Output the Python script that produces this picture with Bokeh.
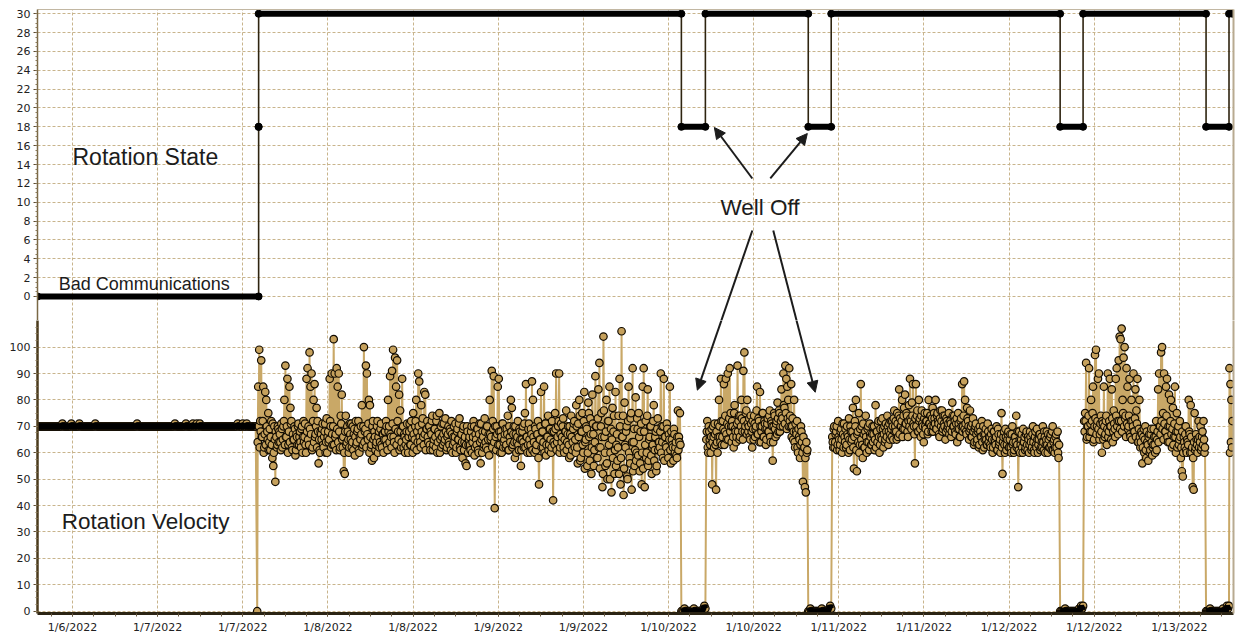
import numpy as np
import pandas as pd
from bokeh.plotting import figure
from bokeh.layouts import column
from bokeh.models import Range1d, LinearAxis, FixedTicker, Label, Arrow, NormalHead
from bokeh.embed import file_html
from bokeh.resources import INLINE

# ---------------- data ----------------
tick_times = ["2022-01-06 12:00", "2022-01-07 00:00", "2022-01-07 12:00", "2022-01-08 00:00",
              "2022-01-08 12:00", "2022-01-09 00:00", "2022-01-09 12:00", "2022-01-10 00:00",
              "2022-01-10 12:00", "2022-01-11 00:00", "2022-01-11 12:00", "2022-01-12 00:00",
              "2022-01-12 12:00", "2022-01-13 00:00"]
tick_labels = ["1/6/2022", "1/7/2022", "1/7/2022", "1/8/2022", "1/8/2022", "1/9/2022", "1/9/2022",
               "1/10/2022", "1/10/2022", "1/11/2022", "1/11/2022", "1/12/2022", "1/12/2022", "1/13/2022"]

state_ticks = list(range(0, 31, 2))
vel_ticks = list(range(0, 101, 10))

# Rotation State runs
state_start = ["2022-01-06 07:04", "2022-01-07 14:14", "2022-01-07 14:14", "2022-01-10 01:49",
               "2022-01-10 05:12", "2022-01-10 19:42", "2022-01-10 22:56", "2022-01-12 07:12",
               "2022-01-12 10:26", "2022-01-13 03:46", "2022-01-13 07:00"]
state_end = ["2022-01-07 14:14", "2022-01-07 14:14", "2022-01-10 01:49", "2022-01-10 05:12",
             "2022-01-10 19:42", "2022-01-10 22:56", "2022-01-12 07:12", "2022-01-12 10:26",
             "2022-01-13 03:46", "2022-01-13 07:00", "2022-01-13 07:29"]
state_value = [0, 18, 30, 18, 30, 18, 30, 18, 30, 18, 30]

# Rotation Velocity, sampled segments
vel_flat = [70, 70, 70, 70, 70, 70, 70, 70, 70, 70, 70, 70, 70, 70, 70, 70, 70, 70, 70, 70,
            70, 70, 70, 70, 70, 71, 70, 70, 70, 70, 70, 70, 70, 70, 71, 70, 70, 70, 70, 70,
            70, 70, 71, 70, 70, 70, 70, 70, 70, 70, 70, 70, 70, 70, 70, 70, 70, 70, 71, 70,
            70, 70, 70, 70, 70, 70, 70, 70, 70, 70, 70, 70, 70, 70, 70, 70, 70, 70, 70, 70,
            70, 70, 70, 70, 70, 70, 70, 70, 70, 70, 70, 70, 70, 70, 70, 70, 70, 70, 70, 70,
            71, 70, 70, 70, 70, 70, 70, 70, 70, 70, 70, 70, 70, 70, 70, 70, 70, 70, 70, 70,
            70, 70, 70, 70, 70, 70, 70, 70, 70, 70, 70, 70, 70, 70, 70, 70, 70, 70, 71, 70,
            70, 70, 70, 70, 70, 70, 70, 70, 70, 71, 70, 70, 70, 70, 70, 70, 71, 70, 70, 70,
            71, 70, 70, 71, 70, 70, 70, 70, 70, 70, 70, 70, 70, 70, 70, 70, 70, 70, 70, 70,
            70, 70, 70, 70, 70, 70, 70, 70, 70, 70, 70, 70, 70, 70, 70, 70, 70, 70, 70, 70,
            70, 71, 70, 70, 70, 70, 71, 70, 70, 70, 71, 70, 70, 70, 70, 70, 70, 70, 70, 70]
vel_run_a = [0, 85, 99, 72, 95, 66, 85, 62, 83, 80, 68, 75, 64, 61, 72, 58, 55, 70, 49, 66, 63, 69,
             68, 64, 71, 62, 70, 80, 93, 66, 88, 63, 85, 77, 72, 61, 65, 70, 59, 67, 63, 71, 66,
             64, 69, 60, 72, 66, 63, 88, 92, 70, 98, 85, 90, 62, 80, 86, 67, 77, 72, 56, 61, 68,
             65, 71, 62, 68, 60, 73, 66, 64, 88, 70, 90, 63, 103, 90, 67, 92, 85, 90, 61, 74, 82,
             62, 53, 52, 74, 64, 68, 60, 71, 65, 62, 70, 67, 59, 72, 64, 69, 61, 66, 70, 78, 63,
             100, 68, 93, 90, 65, 80, 78, 62, 57, 72, 58, 66, 63, 70, 60, 68, 64, 71, 62, 67, 65,
             68, 72, 63, 80, 70, 89, 66, 91, 99, 64, 96, 85, 95, 68, 82, 76, 62, 88, 70, 67, 60,
             65, 71, 60, 68, 63, 72, 66, 75, 62, 70, 80, 68, 90, 87, 64, 78, 71, 66, 83, 82, 69,
             72, 64, 70, 61, 67, 74, 63, 69, 66, 72, 60, 68, 75, 65, 62, 71, 67, 64, 73, 61, 66,
             70, 63, 68, 72, 60, 66, 64, 71, 62, 69, 65, 73, 61, 67, 58, 70, 64, 56, 55, 68, 63,
             66, 61, 70, 64, 72, 59, 67, 63, 69, 60, 71, 56, 65, 68, 62, 73, 64, 70, 61, 67, 80,
             65, 91, 72, 89, 39, 66, 70, 85, 88, 63, 68, 60, 71, 64, 67, 62, 69, 74, 61, 66, 80,
             77, 63, 70, 58, 67, 64, 72, 61, 68, 55, 65, 70, 62, 75, 86, 66, 63, 71, 60, 69, 87,
             80, 64, 70, 61, 67, 72, 48, 65, 83, 68, 62, 85, 71, 59, 66, 74, 63, 69, 60, 72, 42,
             68, 75, 90, 64, 70, 90, 62, 71, 66, 73, 60, 68, 76, 64, 70, 58, 67, 74, 61, 69, 72,
             65, 78, 62, 71, 80, 57, 68, 75, 60, 83, 64, 70, 55, 79, 66, 73, 52, 82, 67, 61, 89,
             70, 58, 84, 94, 62, 75, 47, 104, 66, 55, 80, 50, 72, 85, 60, 45, 77, 68, 52, 83, 63,
             57, 74, 88, 48, 106, 66, 44, 79, 62, 70, 50, 85, 58, 73, 46, 92, 64, 55, 81, 60, 69,
             75, 53, 68, 48, 85, 92, 47, 72, 60, 84, 57, 66, 70, 52, 63, 78, 61, 68, 55, 73, 64,
             62, 90, 70, 58, 88, 66, 63, 71, 60, 67, 85, 56, 65, 62, 69, 60, 64, 58, 76, 66, 75]
vel_band_a = [64, 70, 62, 68, 66, 72, 60, 67, 63, 70, 65, 61, 69, 66, 63, 71, 60, 65, 68, 62, 70, 64,
              67, 61, 69, 65, 72, 63, 66, 70, 60, 68, 64, 71, 62, 67, 65, 69, 61, 66, 70, 63, 68,
              62, 70, 66, 64, 71, 60, 68, 65, 63, 69, 67, 61, 72, 64, 66, 70, 62, 68, 65, 60, 67,
              69, 63, 66, 71, 64, 60, 68, 65, 72, 62, 67, 70, 63, 66, 61, 69, 64, 68, 62, 71, 65,
              66, 60, 68, 63, 70, 65, 62, 67, 71, 64, 61, 69, 66, 63, 68, 72, 60, 65, 67, 62, 70,
              64, 69, 62, 67, 71, 60, 66, 63, 70, 65, 68, 61, 64, 72, 66, 62, 69, 63, 67, 60, 68,
              65, 70, 61, 68, 64, 67, 62, 71, 66, 60, 69, 63, 72, 65, 61, 68, 64, 70, 62, 66, 63,
              68, 62, 66, 71, 63, 69, 60, 67, 65, 72, 61, 64, 70, 66, 62, 68, 73, 63, 67, 61, 69,
              66, 70, 63, 68, 72, 61, 65, 69, 62, 74, 64, 67, 60, 70, 66, 63, 71, 65, 68, 62, 67,
              64, 69, 61, 67, 63, 70, 66, 60, 68, 65, 71, 62, 67, 64, 69, 61, 66, 63, 70, 60, 65,
              63, 68, 60, 66, 70, 62, 65, 69, 61, 67, 64, 71, 60, 66, 63, 68, 62, 70, 65, 59, 67,
              66, 62, 69, 64, 70, 61, 67, 63, 68, 60, 66, 71, 62, 65, 69, 63, 67, 61, 70, 64, 68,
              62, 67, 64, 70, 60, 66, 63, 69, 65, 61, 68, 64, 71, 62, 66, 60, 69, 65, 63, 67, 61,
              66, 60, 69, 63, 67, 58, 65, 70, 62, 68, 64, 60, 71, 63, 66, 61, 69, 65, 62, 68, 64,
              63, 69, 61, 66, 72, 60, 67, 64, 70, 62, 65, 68, 61, 67, 63, 70, 59, 66, 64, 71, 62,
              60, 70, 56, 66, 74, 58, 68, 63, 72, 54, 65, 69, 60, 75, 57, 67, 62, 71, 55, 64, 70,
              58, 73, 62, 54, 70, 66, 52, 76, 60, 68, 56, 72, 63, 50, 69, 65, 58, 74, 61, 55, 67,
              62, 52, 70, 58, 66, 74, 54, 63, 68, 51, 72, 60, 56, 75, 64, 53, 69, 61, 57, 73, 59,
              66, 56, 71, 60, 54, 68, 63, 58, 74, 55, 65, 70, 59, 62, 72, 57, 66, 53, 69, 61, 64,
              68, 60, 64, 70, 57, 66, 62, 69, 58, 65, 61, 68, 63, 57, 67, 62, 59, 66, 61, 64, 63]
vel_off1 = [0, 0, 0, 1, 0, 0, 0, 0, 0, 0, 0, 0, 1, 0, 0, 0, 0, 0, 0, 0, 0, 1, 2, 1]
vel_run_b = [65, 72, 60, 68, 63, 66, 48, 70, 62, 67, 46, 64, 71,
             80, 66, 88, 63, 72, 86, 68, 88, 65, 90, 70, 92, 75,
             64, 70, 62, 78, 68, 66, 93, 72, 65, 74, 80, 68, 91, 98, 70, 76, 80,
             68, 73, 65, 71, 62, 69, 74, 66, 70, 85, 67, 72, 83, 64, 70, 75, 66, 71, 63, 69,
             73, 68, 76, 64, 71, 57, 70, 74, 66, 72, 79, 68, 75, 70, 84, 73, 90, 77, 93, 88, 85, 80, 92,
             74, 86, 70, 65, 80, 62, 68, 72, 60, 66, 58, 70, 64, 49, 62, 47, 45, 60]
vel_band_b = [68, 62, 70, 65, 60, 69, 64, 66, 71, 63, 68, 60, 66,
              70, 64, 72, 66, 69, 63, 74, 67, 71, 65, 73, 68, 70,
              72, 66, 75, 69, 64, 71, 68, 74, 66, 70, 73, 65, 72, 68, 75, 67, 71,
              70, 66, 74, 68, 72, 65, 71, 69, 76, 67, 73, 64, 70, 68, 75, 66, 72, 69, 65, 71,
              68, 74, 66, 72, 70, 64, 75, 69, 71, 67, 73, 76, 68, 72, 74, 70, 78, 71, 75, 69, 73, 70, 72,
              70, 66, 73, 68, 64, 71, 67, 62, 69, 65, 63, 68, 60, 66, 62, 58, 64, 61]
vel_off2 = [0, 0, 1, 0, 0, 0, 0, 0, 0, 0, 0, 0, 0, 1, 0, 0, 0, 0, 0, 0, 1, 2, 1]
vel_run_c = [66, 62, 70, 64, 68, 61, 72, 65, 63, 69, 60, 67, 71, 64, 62, 70, 66, 73, 61, 68,
             65, 77, 54, 72, 80, 53, 68, 75, 63, 86, 70, 58, 67, 62, 74, 60, 69, 64, 71, 66,
             63, 70, 67, 61, 78, 68, 64, 72, 60, 69, 66, 73, 62, 70, 65, 68, 74, 63, 71, 67,
             69, 72, 65, 76, 70, 68, 75, 66, 84, 73, 70, 80, 69, 77, 82, 71, 74, 66, 78, 88,
             72, 79, 86, 70, 56, 86, 74, 68, 80, 73, 66, 76, 70, 64, 75, 69, 72, 67, 80, 71,
             74, 68, 77, 70, 73, 80, 69, 75, 71, 66, 76, 72, 68, 74, 70, 65, 73, 69, 71, 67,
             72, 66, 79, 70, 74, 68, 71, 64, 75, 69, 66, 73, 86, 70, 87, 80, 68, 77, 72, 65,
             76, 70, 66, 73, 63, 69, 71, 64, 68, 62, 70, 66, 72, 61, 67, 65, 69, 63, 71, 64,
             66, 62, 69, 60, 68, 65, 63, 70, 61, 67, 64, 60, 75, 52, 66, 63, 69, 61, 65, 68,
             62, 67, 60, 70, 64, 61, 66, 74, 63, 47, 68, 60, 65, 62, 69, 64, 61, 67, 63, 66,
             60, 68, 64, 62, 70, 61, 66, 63, 69, 60, 65, 67, 62, 64, 70, 61, 66, 63, 68, 60,
             65, 62, 67, 61, 70, 64, 60, 66, 62, 68, 58]
vel_band_c = [64, 69, 62, 67, 70, 63, 66, 61, 68, 65, 71, 62, 66, 69, 63, 67, 60, 65, 70, 64,
              68, 62, 66, 70, 61, 67, 64, 60, 69, 65, 63, 71, 62, 68, 66, 64, 70, 61, 67, 63,
              67, 64, 70, 65, 62, 68, 71, 66, 63, 72, 65, 69, 67, 64, 71, 66, 70, 68, 65, 72,
              66, 70, 73, 68, 72, 65, 71, 74, 67, 70, 72, 66, 74, 69, 71, 75, 68, 72, 70, 73,
              69, 74, 71, 67, 73, 70, 76, 68, 72, 69, 74, 71, 67, 73, 70, 72, 75, 68, 71, 74,
              70, 73, 68, 75, 71, 69, 74, 72, 67, 73, 70, 76, 69, 71, 74, 68, 72, 70, 75, 69,
              71, 68, 74, 70, 72, 67, 73, 69, 71, 66, 72, 70, 68, 74, 69, 71, 67, 73, 70, 68,
              69, 66, 71, 68, 64, 70, 67, 65, 69, 63, 68, 66, 64, 70, 62, 67, 65, 63, 68, 66,
              63, 67, 65, 62, 68, 64, 66, 61, 69, 63, 65, 67, 62, 64, 68, 60, 66, 63, 67, 62,
              65, 62, 67, 63, 60, 66, 64, 62, 68, 61, 65, 63, 67, 60, 64, 66, 62, 68, 61, 65,
              63, 66, 61, 67, 64, 60, 68, 62, 65, 63, 67, 61, 66, 62, 64, 68, 60, 65, 63, 67,
              62, 66, 63, 68, 61, 65, 62, 67, 64, 60, 63]
vel_off3 = [0, 0, 0, 0, 0, 1, 0, 0, 0, 0, 0, 0, 0, 0, 0, 0, 0, 0, 0, 1, 0, 2, 1, 2]
vel_run_d = [72, 75, 94, 66, 70, 92, 68, 80, 72, 85, 65, 97, 99, 70, 88, 90, 67,
             74, 60, 71, 85, 66, 72, 63, 90, 68, 88, 70, 84, 64, 76, 69, 88, 92, 72, 95, 104,
             103, 107, 80, 96, 100, 74, 92, 85, 70, 88, 66, 80, 72, 90, 68, 84, 76, 88, 64, 80,
             62, 68, 56, 66, 60, 70, 58, 64, 57, 67, 61, 69, 59, 63, 66, 60, 72, 65, 84, 90,
             70, 98, 100, 75, 90, 68, 85, 88, 64, 82, 70, 80, 62, 77, 66, 85, 60, 75, 68, 63,
             72, 58, 53, 51, 66, 62, 70, 60, 64, 80, 67, 78, 60, 47, 46, 75, 62, 65, 60, 72,
             66, 70, 62, 68, 72, 60]
vel_band_d = [68, 72, 65, 70, 74, 66, 71, 68, 75, 64, 70, 73, 67, 72, 69, 65, 71,
              68, 72, 65, 70, 67, 74, 69, 66, 72, 70, 65, 73, 68, 71, 66, 74, 70, 67, 72, 69,
              72, 68, 75, 70, 73, 66, 71, 69, 74, 67, 72, 65, 70, 68, 73, 66, 71, 64, 69, 66,
              64, 67, 62, 69, 65, 61, 68, 63, 66, 60, 67, 64, 62, 69, 63, 66, 61, 68, 64, 70,
              67, 72, 69, 65, 71, 68, 74, 66, 70, 64, 72, 67, 69, 63, 71, 66, 68, 62, 70, 65,
              66, 62, 68, 60, 64, 67, 61, 65, 63, 68, 60, 66, 62, 58, 64, 61, 67, 63, 65, 62,
              64, 61, 66, 63, 65, 62]
vel_off4 = [0, 0, 0, 0, 1, 0, 0, 0, 0, 0, 0, 0, 0, 0, 0, 0, 0, 1, 0, 0, 0, 2, 1, 2]
vel_run_e = [92, 60, 86, 64, 80, 62, 72]

vel_seg_main = [vel_flat, vel_run_a, vel_off1, vel_run_b, vel_off2, vel_run_c,
                vel_off3, vel_run_d, vel_off4, vel_run_e]
vel_seg_band = [None, vel_band_a, None, vel_band_b, None, vel_band_c,
                None, vel_band_d, None, None]
vel_seg_start = ["2022-01-06 07:04", "2022-01-07 14:02", "2022-01-10 01:49", "2022-01-10 05:20",
                 "2022-01-10 19:42", "2022-01-10 23:05", "2022-01-12 07:12", "2022-01-12 10:35",
                 "2022-01-13 03:46", "2022-01-13 07:04"]
vel_seg_end = ["2022-01-07 13:49", "2022-01-10 01:41", "2022-01-10 05:12", "2022-01-10 19:34",
               "2022-01-10 22:56", "2022-01-12 07:03", "2022-01-12 10:26", "2022-01-13 03:37",
               "2022-01-13 07:00", "2022-01-13 07:29"]
vel_seg_kind = ["flat", "run", "off", "run", "off", "run", "off", "run", "off", "run"]

# annotations
notes = ["Rotation State", "Bad Communications", "Well Off"]
notes_x = ["2022-01-06 12:00", "2022-01-06 10:04", "2022-01-10 07:19"]
notes_y = [14.75, 1.27, 9.44]
notes_size = ["23px", "18px", "22.5px"]
vel_note = "Rotation Velocity"

# arrows in state panel
arr_top_x0 = ["2022-01-10 11:49", "2022-01-10 14:21", "2022-01-10 11:49", "2022-01-10 14:46"]
arr_top_y0 = [12.52, 12.52, 7.0, 7.0]
arr_top_x1 = ["2022-01-10 06:28", "2022-01-10 19:34", "2022-01-10 06:58", "2022-01-10 18:25"]
arr_top_y1 = [17.93, 17.29, -3.61, -3.61]
arr_top_head = [True, True, False, False]
# arrows in velocity panel
arr_bot_x0 = ["2022-01-10 07:56", "2022-01-10 17:41"]
arr_bot_y0 = [113.8, 113.8]
arr_bot_x1 = ["2022-01-10 04:04", "2022-01-10 20:41"]
arr_bot_y1 = [83.7, 82.9]


def ms(s):
    return pd.Timestamp(s).value / 1e6


# ---------------- styling ----------------
GRID = "#c8b48c"
TAN_LINE = "#c9a867"
TAN_FILL = "#c6a15c"
FONT = "DejaVu Sans"
TXT = "Liberation Sans"
INK = "#1c1c1c"

tick_ms = [ms(t) for t in tick_times]
minor_ms = [ms(t) for t in pd.date_range("2022-01-06 09:00", "2022-01-13 06:00", freq="3h")]
xr = Range1d(ms("2022-01-06 07:04"), ms("2022-01-13 07:38"))

W = 1238


def border_axis():
    return LinearAxis(ticker=FixedTicker(ticks=[]), major_tick_line_color=None,
                      minor_tick_line_color=None, axis_line_color="#b8aa90",
                      axis_line_width=2, major_label_standoff=0)


def style_y(ax, ticks, minor, line_color, line_width):
    ax.ticker = FixedTicker(ticks=ticks, minor_ticks=minor)
    ax.axis_line_color = line_color
    ax.axis_line_width = line_width
    ax.major_tick_line_color = "#5a4a30"
    ax.minor_tick_line_color = "#8a7a5a"
    ax.major_tick_in = 0
    ax.major_tick_out = 4
    ax.minor_tick_in = 0
    ax.minor_tick_out = 2
    ax.major_label_standoff = 3
    ax.major_label_text_font = FONT
    ax.major_label_text_font_size = "11px"
    ax.major_label_text_color = "#222222"


# ---------------- top panel ----------------
top = figure(width=W, height=320, x_range=xr, y_range=Range1d(-2.55, 30.45),
             x_axis_type="datetime", x_axis_location=None,
             output_backend="svg", toolbar_location=None,
             min_border_left=37, min_border_right=5, min_border_top=9, min_border_bottom=0,
             background_fill_color="white", border_fill_color="white", outline_line_color=None)

style_y(top.yaxis[0], state_ticks, list(np.arange(0, 30.01, 0.5)), "#7a6845", 1.5)
top.xgrid.ticker = FixedTicker(ticks=tick_ms)
for g in (top.xgrid, top.ygrid):
    g.grid_line_color = GRID
    g.grid_line_dash = "3 2"
    g.grid_line_width = 1

topb = border_axis()
topb.axis_line_width = 1
topb.axis_line_color = "#c2b7a2"
top.add_layout(topb, "above")
top.add_layout(border_axis(), "right")

sx, sy = [], []
for s, e, v in zip(state_start, state_end, state_value):
    sx += [ms(s), ms(e)]
    sy += [v, v]
top.line(sx, sy, line_color="#2e2410", line_width=1.6)
top.segment(x0=[ms(s) for s in state_start], x1=[ms(e) for e in state_end],
            y0=state_value, y1=state_value, line_color="black", line_width=6, line_cap="round")
top.scatter(x=[ms(s) for s in state_start] + [ms(e) for e in state_end],
            y=state_value + state_value, size=7, marker="circle", color="black")

for t, xs, ys, fs in zip(notes, notes_x, notes_y, notes_size):
    top.add_layout(Label(x=ms(xs), y=ys, text=t, text_font=TXT, text_font_size=fs,
                         text_color=INK, text_baseline="middle", text_align="left"))

for x0, y0, x1, y1, hd in zip(arr_top_x0, arr_top_y0, arr_top_x1, arr_top_y1, arr_top_head):
    head = NormalHead(size=11, fill_color=INK, line_color=INK) if hd else None
    top.add_layout(Arrow(end=head, x_start=ms(x0), y_start=y0, x_end=ms(x1), y_end=y1,
                         line_color=INK, line_width=2))

# ---------------- bottom panel ----------------
bot = figure(width=W, height=316, x_range=xr, y_range=Range1d(-0.87, 110.07),
             x_axis_type="datetime",
             output_backend="svg", toolbar_location=None,
             min_border_left=37, min_border_right=5, min_border_top=0, min_border_bottom=22,
             background_fill_color="white", border_fill_color="white", outline_line_color=None)

bx = bot.xaxis[0]
bx.ticker = FixedTicker(ticks=tick_ms, minor_ticks=minor_ms)
bx.major_label_overrides = {t: lab for t, lab in zip(tick_ms, tick_labels)}
bx.axis_line_color = "#2b2414"
bx.axis_line_width = 3
bx.major_tick_line_color = "#3a3020"
bx.minor_tick_line_color = "#6a5a40"
bx.major_tick_in = 0
bx.major_tick_out = 3
bx.minor_tick_in = 0
bx.minor_tick_out = 3
bx.major_label_standoff = 4
bx.major_label_text_font = FONT
bx.major_label_text_font_size = "11px"
bx.major_label_text_color = "#222222"

style_y(bot.yaxis[0], vel_ticks, list(np.arange(0, 107.6, 2.5)), "#4b3b1c", 2.5)

for g in (bot.xgrid, bot.ygrid):
    g.grid_line_color = GRID
    g.grid_line_dash = "3 2"
    g.grid_line_width = 1

bot.add_layout(border_axis(), "right")

vx, vy = [], []
seg_xy = []
for main, band, s, e, k in zip(vel_seg_main, vel_seg_band, vel_seg_start, vel_seg_end, vel_seg_kind):
    vals = list(main) if band is None else [v for pair in zip(main, band) for v in pair]
    xs = list(np.linspace(ms(s), ms(e), len(vals)))
    vx += xs
    vy += vals
    seg_xy.append((xs, vals, k))

bot.line(vx, vy, line_color=TAN_LINE, line_width=2)
bot.scatter(vx, vy, size=7.5, marker="circle", fill_color=TAN_FILL, line_color="#120c02",
            line_width=1.2)
for xs, vals, k in seg_xy:
    if k in ("flat", "off"):
        bot.line(xs, vals, line_color="black", line_width=6)

bot.add_layout(Label(x=ms("2022-01-06 10:30"), y=33.8, text=vel_note, text_font=TXT,
                     text_font_size="22.5px", text_color=INK, text_baseline="middle"))
for x0, y0, x1, y1 in zip(arr_bot_x0, arr_bot_y0, arr_bot_x1, arr_bot_y1):
    bot.add_layout(Arrow(end=NormalHead(size=11, fill_color=INK, line_color=INK),
                         x_start=ms(x0), y_start=y0, x_end=ms(x1), y_end=y1,
                         line_color=INK, line_width=2))

layout = column(top, bot, spacing=0)
open("out.html", "w").write(file_html(layout, INLINE))
